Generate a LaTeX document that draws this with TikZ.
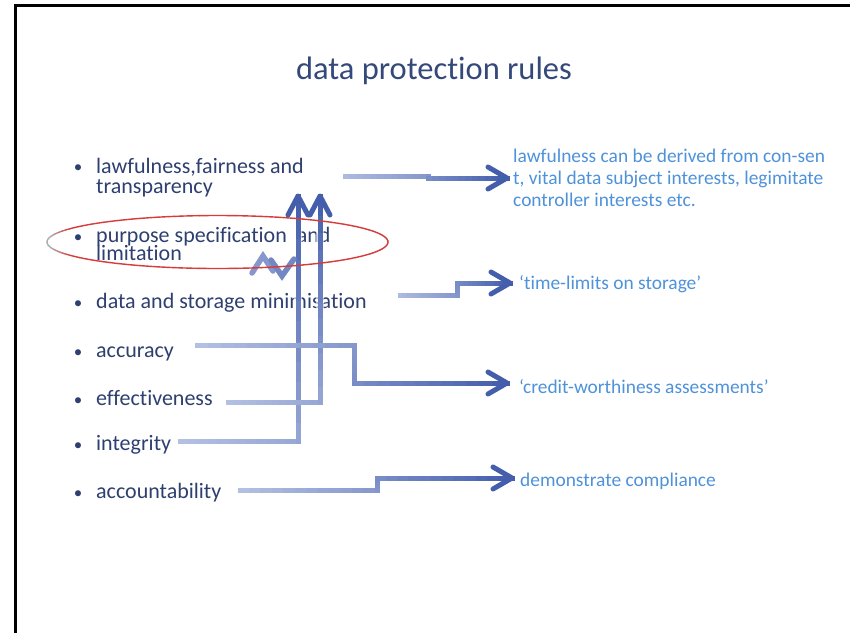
\documentclass[tikz,border=0pt]{standalone}
\usepackage{fontspec}
\setmainfont{Carlito}[Ligatures=NoCommon]
\usetikzlibrary{calc}

\definecolor{titleblue}{RGB}{52,72,122}
\definecolor{itemblue}{RGB}{46,64,112}
\definecolor{noteblue}{RGB}{78,146,218}
\definecolor{connlight}{RGB}{186,198,230}
\definecolor{conndark}{RGB}{68,94,172}
\definecolor{ringred}{RGB}{214,60,60}
\definecolor{ringgray}{RGB}{175,175,175}

\tikzset{
  item/.style={anchor=base west, inner sep=0pt, text=itemblue,
    font=\fontsize{22}{20.5}\selectfont, align=left},
  note/.style={anchor=base west, inner sep=0pt, text=noteblue,
    font=\fontsize{19.4}{22}\selectfont, align=left},
  bulletmark/.style={anchor=base, inner sep=0pt, text=itemblue,
    font=\fontsize{17}{17}\selectfont},
  halo/.style={draw=white, opacity=0.6, line width=8pt, line cap=butt},
  head/.style={draw=conndark, line width=5pt, line cap=round, line join=round},
}

% one straight piece of a connector, shaded from #3 to #4 percent of the dark tone
\newcommand\gseg[4]{%
  \foreach \k in {0,...,11}{%
    \pgfmathsetmacro\ta{\k/12}%
    \pgfmathsetmacro\tb{(\k+1)/12}%
    \pgfmathtruncatemacro\pc{#3+(#4-#3)*(\k+0.5)/12}%
    \draw[line width=5pt, line cap=rect, draw=conndark!\pc!connlight]
      ($(#1)!\ta!(#2)$) -- ($(#1)!\tb!(#2)$);
  }}

% open chevron heads
\newcommand\headright[1]{\draw[head] ($(#1)+(-19,-11)$) -- (#1) -- ($(#1)+(-19,11)$);}
\newcommand\headup[1]{\draw[head] ($(#1)+(-10,19)$) -- (#1) -- ($(#1)+(10,19)$);}

\begin{document}
\begin{tikzpicture}[x=1pt, y=-1pt]
\useasboundingbox (0,0) rectangle (850,633);
\fill[white] (0,0) rectangle (850,633);

% slide frame
\draw[line width=3pt, black] (15,633) -- (15,5) -- (850,5);

% title
\node[anchor=base, inner sep=0pt, text=titleblue, font=\fontsize{32.5}{38}\selectfont]
  (title) at (434,79) {data protection rules};

% bulleted rules (a node's base is the baseline of its last line)
\node[item] (law) at (96,193.5) {lawfulness,fairness and\\transparency};
\node[item] (purp) at (96,260.5) {purpose specification\ \ and\\[-2.5pt]limitation};
\node[item] (mini) at (96,308.5) {data and storage minimisation};
\node[item] (accu) at (96,357.5) {accuracy};
\node[item] (effe) at (96,405.5) {effectiveness};
\node[item] (inte) at (96,450.5) {integrity};
\node[item] (acco) at (96,498.5) {accountability};
\foreach \yy/\nm in {172.5/b1,242.5/b2,308.5/b3,357.5/b4,405.5/b5,450.5/b6,498.5/b7}
  \node[bulletmark] (\nm) at (78,\yy) {•};

% notes on the right
\node[note] (nlaw) at (513,206) {lawfulness can be derived from con-sen\\t, vital data subject interests, legimitate\\controller interests etc.};
\node[note] (nmin) at (519,289) {‘time-limits on storage’};
\node[note] (nacc) at (519,393) {‘credit-worthiness assessments’};
\node[note] (ncom) at (520,486) {demonstrate compliance};

% connector corners
\coordinate (l0) at (345,176); \coordinate (l1) at (428,176);
\coordinate (l2) at (428,178); \coordinate (l3) at (507,178);
\coordinate (m0) at (400,295); \coordinate (m1) at (457,295);
\coordinate (m2) at (457,283); \coordinate (m3) at (510,283);
\coordinate (a0) at (197,345); \coordinate (a1) at (354,345);
\coordinate (a2) at (354,383); \coordinate (a3) at (507,383);
\coordinate (e0) at (228,402); \coordinate (e1) at (320,402);
\coordinate (e2) at (320,196);
\coordinate (i0) at (180,441); \coordinate (i1) at (298,441);
\coordinate (i2) at (298,196);
\coordinate (c0) at (240,490); \coordinate (c1) at (377,490);
\coordinate (c2) at (377,478); \coordinate (c3) at (512,478);

% white halos under the shafts
\draw[halo] (e0) -- (e1) -- (e2);
\draw[halo] (i0) -- (i1) -- (i2);
\draw[halo] (a0) -- (a1) -- (a2) -- (a3);

% lawfulness -> note
\gseg{l0}{l1}{10}{45}\gseg{l1}{l2}{45}{50}\gseg{l2}{l3}{55}{100}\headright{l3}
% minimisation -> time limits
\gseg{m0}{m1}{10}{45}\gseg{m1}{m2}{45}{55}\gseg{m2}{m3}{55}{100}\headright{m3}
% integrity -> up
\gseg{i0}{i1}{5}{30}\gseg{i1}{i2}{30}{100}\headup{i2}
% effectiveness -> up
\gseg{e0}{e1}{5}{30}\gseg{e1}{e2}{30}{100}\headup{e2}
% accuracy -> credit-worthiness
\gseg{a0}{a1}{5}{45}\gseg{a1}{a2}{45}{55}\gseg{a2}{a3}{55}{100}\headright{a3}
% accountability -> compliance
\gseg{c0}{c1}{5}{45}\gseg{c1}{c2}{45}{55}\gseg{c2}{c3}{55}{100}\headright{c3}

% small double chevron
\coordinate (z1) at (252,273); \coordinate (z2) at (263,256); \coordinate (z3) at (273,271);
\coordinate (z4) at (271,260); \coordinate (z5) at (282,276); \coordinate (z6) at (294,259);
\draw[line width=5.5pt, line cap=round, line join=miter, draw=conndark!45!connlight] (z1) -- (z2) -- (z3);
\draw[line width=5.5pt, line cap=round, line join=miter, draw=conndark!60!connlight] (z4) -- (z5) -- (z6);

% ring round the purpose rule, greying out at its left end
\coordinate (ec) at (217.5,242);
\foreach \a in {0,3,...,357}{%
  \pgfmathsetmacro\g{max(0,min(1,(-cos(\a+1.5)-0.86)/0.12))*100}%
  \pgfmathtruncatemacro\gi{\g}%
  \draw[line width=1.4pt, line cap=round, draw=ringgray!\gi!ringred]
    ($(ec)+(\a:170.5 and 26.5)$) -- ($(ec)+(\a+3:170.5 and 26.5)$);
}
\end{tikzpicture}
\end{document}
